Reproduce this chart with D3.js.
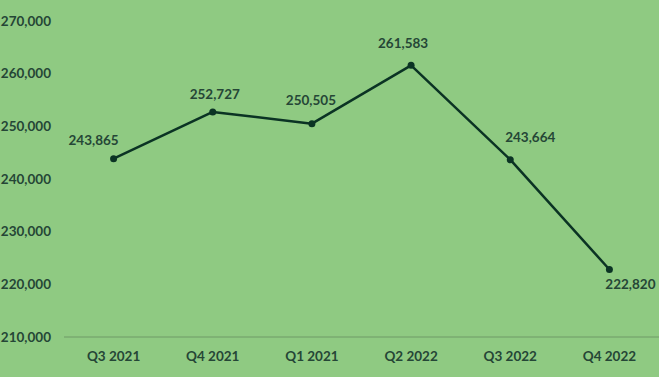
<!DOCTYPE html>
<html>
<head>
<meta charset="utf-8">
<script src="https://cdn.jsdelivr.net/npm/d3@7"></script>
<style>
  body { margin: 0; background: #8fca82; }
  svg text { font-family: Lato, "Open Sans", sans-serif; font-weight: bold; }
</style>
</head>
<body>
<div id="chart"></div>
<script>
// chart data
const quarters = ["Q3 2021", "Q4 2021", "Q1 2021", "Q2 2022", "Q3 2022", "Q4 2022"];
const values = [243865, 252727, 250505, 261583, 243664, 222820];
const yTicks = [210000, 220000, 230000, 240000, 250000, 260000, 270000];

// label nudges (dx, dy) relative to the point
const labelShift = [[-20, -14], [2, -13], [-1, -19], [-8, -17], [20, -18], [21, 20]];

const W = 659, H = 377;
const plotLeft = 64, plotRight = 659, plotTop = 21, plotBottom = 337;
const textCol = "#254636";
const lineCol = "#0b3324";
const fs = 13.5;

const svg = d3.select("#chart").append("svg")
    .attr("width", W)
    .attr("height", H);

const x = d3.scaleBand()
    .domain(quarters)
    .range([plotLeft, plotRight]);

const y = d3.scaleLinear()
    .domain([210000, 270000])
    .range([plotBottom, plotTop]);

// y axis labels
svg.append("g")
    .selectAll("text")
    .data(yTicks)
    .enter()
    .append("text")
    .attr("x", 51)
    .attr("y", d => y(d))
    .attr("dy", "0.35em")
    .attr("text-anchor", "end")
    .attr("font-size", fs)
    .attr("fill", textCol)
    .text(d => d3.format(",")(d));

// baseline
svg.append("line")
    .attr("x1", plotLeft)
    .attr("x2", plotRight)
    .attr("y1", y(210000))
    .attr("y2", y(210000))
    .attr("stroke", "#6f9a66")
    .attr("stroke-width", 1);

// x labels
svg.append("g")
    .selectAll("text")
    .data(quarters)
    .enter()
    .append("text")
    .attr("x", d => x(d) + x.bandwidth() / 2)
    .attr("y", 361)
    .attr("text-anchor", "middle")
    .attr("font-size", fs)
    .attr("fill", textCol)
    .text(d => d);

const cx = (d, i) => x(quarters[i]) + x.bandwidth() / 2;

// line
const line = d3.line()
    .x((d, i) => cx(d, i))
    .y(d => y(d));

svg.append("path")
    .datum(values)
    .attr("d", line)
    .attr("fill", "none")
    .attr("stroke", lineCol)
    .attr("stroke-width", 2.5)
    .attr("stroke-linejoin", "round");

// markers
svg.selectAll("circle")
    .data(values)
    .enter()
    .append("circle")
    .attr("cx", cx)
    .attr("cy", d => y(d))
    .attr("r", 3.5)
    .attr("fill", lineCol);

// value labels
svg.append("g")
    .selectAll("text")
    .data(values)
    .enter()
    .append("text")
    .attr("x", (d, i) => cx(d, i) + labelShift[i][0])
    .attr("y", (d, i) => y(d) + labelShift[i][1])
    .attr("text-anchor", "middle")
    .attr("font-size", fs)
    .attr("fill", textCol)
    .text(d => d3.format(",")(d));
</script>
</body>
</html>
